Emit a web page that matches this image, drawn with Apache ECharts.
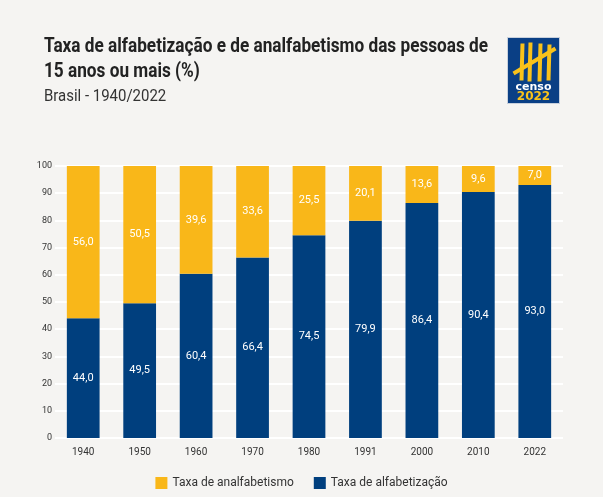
<!DOCTYPE html>
<html><head><meta charset="utf-8">
<script src="https://cdn.jsdelivr.net/npm/echarts@6/dist/echarts.min.js"></script>
<style>html,body{margin:0;padding:0;background:#f5f4f2;}#c{width:603px;height:497px;}</style>
</head><body><div id="c"></div>
<script>
const categories = ['1940','1950','1960','1970','1980','1991','2000','2010','2022'];
const alfabetizacao = [44.0, 49.5, 60.4, 66.4, 74.5, 79.9, 86.4, 90.4, 93.0];
const analfabetismo = [56.0, 50.5, 39.6, 33.6, 25.5, 20.1, 13.6, 9.6, 7.0];
const yTicks = [0,10,20,30,40,50,60,70,80,90,100];

const COND = '"Roboto",sans-serif';
const fmt = v => v.toFixed(1).replace('.', ',');
const chart = echarts.init(document.getElementById('c'));
chart.setOption({
  backgroundColor: '#f5f4f2',
  animation: false,
  legend: {
    bottom: 3, left: 'center', itemWidth: 12, itemHeight: 12, itemGap: 20,
    icon: 'rect',
    textStyle: {fontFamily: 'Roboto, sans-serif', fontSize: 12, color: '#333'},
    data: ['Taxa de analfabetismo', 'Taxa de alfabetização']
  },
  grid: {left: 55, right: 40, top: 166, bottom: 59},
  xAxis: {
    type: 'category', data: categories,
    axisLine: {show: false}, axisTick: {show: false},
    axisLabel: {fontFamily: COND, fontSize: 10, color: '#333', margin: 9}
  },
  yAxis: {
    type: 'value', min: 0, max: 100, interval: 10,
    axisLabel: {fontFamily: COND, fontSize: 9, color: '#333', margin: 3,
      formatter: v => yTicks.includes(v) ? String(v) : ''},
    splitLine: {lineStyle: {color: '#ffffff', width: 2}},
    axisLine: {show: false}, axisTick: {show: false}
  },
  series: [
    {name: 'Taxa de alfabetização', type: 'bar', stack: 't', data: alfabetizacao, barWidth: '58%',
     itemStyle: {color: '#003f7e'},
     label: {show: true, position: 'inside', color: '#fff', fontFamily: COND, fontSize: 11,
       formatter: p => fmt(p.value)}},
    {name: 'Taxa de analfabetismo', type: 'bar', stack: 't', data: analfabetismo, barWidth: '58%',
     itemStyle: {color: '#f9b719'},
     label: {show: true, position: 'inside', color: '#fff', fontFamily: COND, fontSize: 11,
       formatter: p => fmt(p.value)}}
  ],
  graphic: [
    {type: 'text', left: 44, top: 37, scaleX: 0.86, originX: 0,
     style: {text: 'Taxa de alfabetização e de analfabetismo das pessoas de', fill: '#222',
       font: 'bold 20px Roboto, sans-serif'}},
    {type: 'text', left: 44, top: 62, scaleX: 0.86, originX: 0,
     style: {text: '15 anos ou mais (%)', fill: '#222', font: 'bold 20px Roboto, sans-serif'}},
    {type: 'text', left: 44, top: 88, scaleX: 0.88, originX: 0,
     style: {text: 'Brasil - 1940/2022', fill: '#333', font: '17px Roboto, sans-serif'}},
    {type: 'group', left: 507, top: 37, children: [
      {type: 'rect', shape: {x: 0, y: 0, width: 52, height: 66}, style: {fill: '#0a3f85', stroke: '#c8d0dc', lineWidth: 1}},
      {type: 'line', shape: {x1: 15, y1: 6, x2: 14, y2: 43}, style: {stroke: '#f9c21a', lineWidth: 4}},
      {type: 'line', shape: {x1: 23, y1: 5, x2: 22, y2: 44}, style: {stroke: '#f9c21a', lineWidth: 4}},
      {type: 'line', shape: {x1: 33, y1: 6, x2: 32, y2: 44}, style: {stroke: '#f9c21a', lineWidth: 4}},
      {type: 'line', shape: {x1: 42, y1: 7, x2: 41, y2: 43}, style: {stroke: '#f9c21a', lineWidth: 4}},
      {type: 'line', shape: {x1: 6, y1: 36, x2: 48, y2: 11}, style: {stroke: '#f9c21a', lineWidth: 4}},
      {type: 'text', style: {x: 26, y: 44, text: 'censo', fill: '#ffffff', font: 'bold 11px "DejaVu Sans", sans-serif', align: 'center'}},
      {type: 'text', style: {x: 26, y: 53, text: '2022', fill: '#f9c21a', font: 'bold 12px "DejaVu Sans", sans-serif', align: 'center'}}
    ]}
  ]
});
</script></body></html>
